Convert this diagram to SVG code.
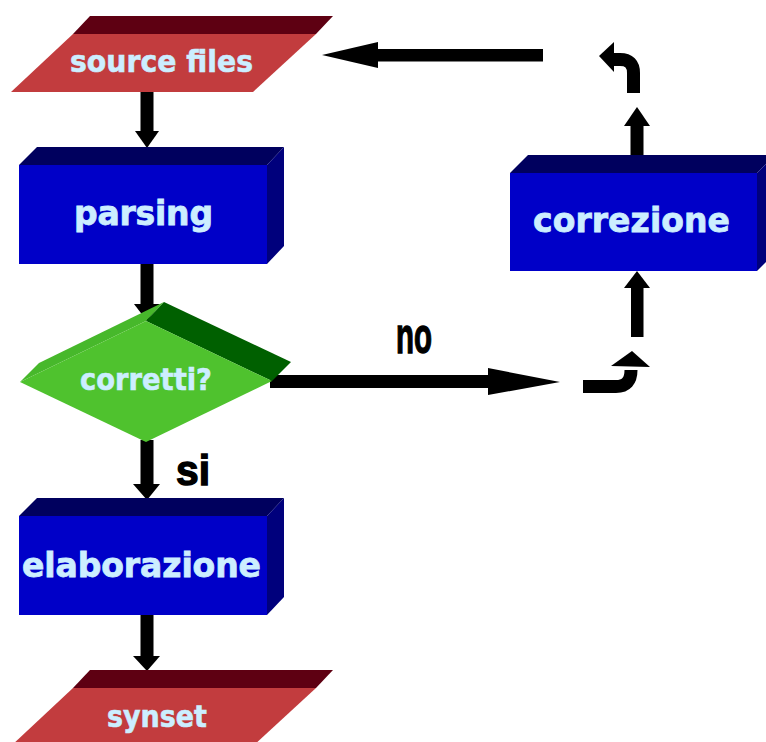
<svg xmlns="http://www.w3.org/2000/svg" width="766" height="742" viewBox="0 0 766 742">
  <style>
    .io-face { fill: #C23C3E; }
    .io-top { fill: #5E0012; }
    .box-face { fill: #0000C8; }
    .box-top { fill: #00005E; }
    .box-side { fill: #00007C; }
    .lbl { font-family: "DejaVu Sans", "Liberation Sans", sans-serif; font-weight: bold; font-size: 33px; fill: #CCEEFF; stroke: #CCEEFF; stroke-width: 0.8px; }
    .lbl.sm { font-size: 30px; stroke-width: 0.6px; }
    .edge-lbl { font-family: "Liberation Sans", Arial, sans-serif; font-weight: bold; fill: #000; stroke: #000; stroke-width: 1.4px; }
    .ar { fill: #000; }
    .curve { fill: none; stroke: #000; stroke-width: 13; }
  </style>

  <rect width="766" height="742" fill="#FFFFFF"/>

  <!-- connectors -->
  <g id="connectors">
    <!-- source files -> parsing -->
    <rect class="ar" x="140.5" y="90" width="13" height="44"/>
    <polygon class="ar" points="135,131 159,131 147,148"/>
    <!-- parsing -> corretti? -->
    <rect class="ar" x="140.5" y="262" width="13" height="44"/>
    <polygon class="ar" points="134,304 160,304 147,321"/>
    <!-- corretti? -> elaborazione (si) -->
    <rect class="ar" x="140.5" y="440" width="13" height="46"/>
    <polygon class="ar" points="133,484 160,484 147,500"/>
    <text class="edge-lbl" x="176" y="485" font-size="42" textLength="34" lengthAdjust="spacingAndGlyphs">si</text>
    <!-- elaborazione -> synset -->
    <rect class="ar" x="140.5" y="613" width="13" height="45"/>
    <polygon class="ar" points="133,656 160,656 147,671"/>
    <!-- corretti? -> correzione (no) -->
    <rect class="ar" x="270" y="375" width="220" height="13"/>
    <polygon class="ar" points="488,368 560,382 488,395"/>
    <text class="edge-lbl" x="396" y="353" font-size="50" textLength="36" lengthAdjust="spacingAndGlyphs">no</text>
    <path class="curve" d="M583,386.5 L616,386.5 Q631,386.5 631,370"/>
    <polygon class="ar" points="611,366 632,351 650,367"/>
    <rect class="ar" x="631" y="286" width="12.5" height="51"/>
    <polygon class="ar" points="624,288 637,271 650,288"/>
    <!-- correzione -> source files -->
    <rect class="ar" x="630.5" y="124" width="13" height="50"/>
    <polygon class="ar" points="624,126 637,107 650,126"/>
    <path class="curve" d="M633.5,93 L633.5,73 Q633.5,59.5 620,59.5 L611,59.5"/>
    <polygon class="ar" points="614,42 599,56 614,72"/>
    <rect class="ar" x="376" y="49" width="167" height="12.5"/>
    <polygon class="ar" points="378,42 322,55 378,68"/>
  </g>

  <!-- source files -->
  <g id="source-files">
    <polygon class="io-top" points="90,16 333,16 316,34 73,34"/>
    <polygon class="io-face" points="73,34 316,34 253,92 11,92"/>
    <text class="lbl sm" x="70" y="72" textLength="183" lengthAdjust="spacingAndGlyphs">source files</text>
  </g>

  <!-- parsing -->
  <g id="parsing">
    <polygon class="box-top" points="19,165 37,147 284,147 267,165"/>
    <polygon class="box-side" points="267,165 284,147 284,246 267,264"/>
    <rect class="box-face" x="19" y="165" width="248" height="99"/>
    <text class="lbl" x="74" y="225" textLength="139" lengthAdjust="spacing">parsing</text>
  </g>

  <!-- corretti? -->
  <g id="corretti">
    <polygon fill="#47B82B" points="20,382 39,363 164,302 146,321"/>
    <polygon fill="#006000" points="146,321 164,302 291,362 272,381"/>
    <polygon fill="#4FC22E" points="20,382 146,321 272,381 146,442"/>
    <text class="lbl sm" x="80" y="390" textLength="132" lengthAdjust="spacingAndGlyphs">corretti?</text>
  </g>

  <!-- elaborazione -->
  <g id="elaborazione">
    <polygon class="box-top" points="19,516 37,498 284,498 267,516"/>
    <polygon class="box-side" points="267,516 284,498 284,597 267,615"/>
    <rect class="box-face" x="19" y="516" width="248" height="99"/>
    <text class="lbl" x="22" y="577" textLength="239" lengthAdjust="spacing">elaborazione</text>
  </g>

  <!-- correzione -->
  <g id="correzione">
    <polygon class="box-top" points="510,173 528,155 775,155 757,173"/>
    <polygon class="box-side" points="757,173 775,155 775,253 757,271"/>
    <rect class="box-face" x="510" y="173" width="247" height="98"/>
    <text class="lbl" x="533" y="232" textLength="197" lengthAdjust="spacing">correzione</text>
  </g>

  <!-- synset -->
  <g id="synset">
    <polygon class="io-top" points="90,670 333,670 316,688 73,688"/>
    <polygon class="io-face" points="73,688 316,688 253,746 11,746"/>
    <text class="lbl sm" x="107" y="727" textLength="100" lengthAdjust="spacingAndGlyphs">synset</text>
  </g>
</svg>
